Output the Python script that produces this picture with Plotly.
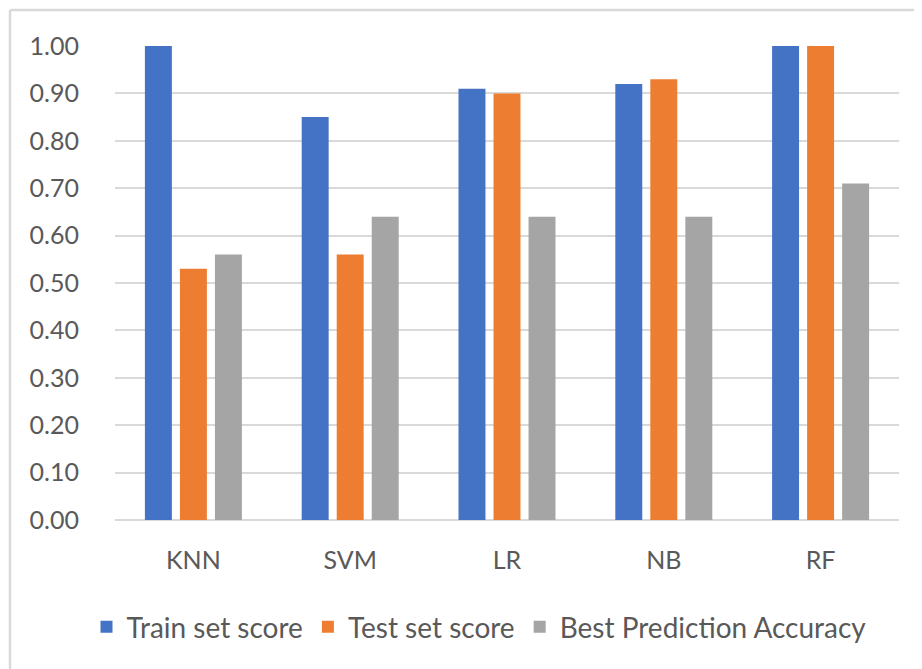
import plotly.graph_objects as go

categories = ["KNN", "SVM", "LR", "NB", "RF"]
train_scores = [1.00, 0.85, 0.91, 0.92, 1.00]
test_scores = [0.53, 0.56, 0.90, 0.93, 1.00]
best_accuracy = [0.56, 0.64, 0.64, 0.64, 0.71]
series_names = ["Train set score", "Test set score", "Best Prediction Accuracy"]
colors = ["#4472C4", "#ED7D31", "#A5A5A5"]

fig = go.Figure()
for name, vals, col in zip(series_names, [train_scores, test_scores, best_accuracy], colors):
    fig.add_trace(go.Bar(x=categories, y=vals, name=name, marker=dict(color=col, line=dict(width=0))))

OFF = 8  # page body margin
W, H = 922 - OFF, 669 - OFF
L, R, T, B = 115 - OFF, 23, 46 - OFF, 149
pw, ph = W - L - R, H - T - B

def px_to_paper_x(px):
    return (px - OFF - L) / pw

def px_to_paper_y(py):
    return (H - B - (py - OFF)) / ph

fig.update_layout(
    width=W, height=H,
    margin=dict(l=L, r=R, t=T, b=B),
    paper_bgcolor="white", plot_bgcolor="white",
    barmode="group", bargap=0.33, bargroupgap=0.23,
    font=dict(family="Lato, Carlito, Calibri, sans-serif", size=25, color="#595959"),
    showlegend=True,
    legend=dict(orientation="h", x=px_to_paper_x(479), xanchor="center",
                y=px_to_paper_y(627), yanchor="middle",
                font=dict(size=28, color="#595959"), itemwidth=30,
                bgcolor="rgba(0,0,0,0)"),
    xaxis=dict(showgrid=False, showline=False, ticks="", ticklabelstandoff=23,
               tickfont=dict(size=25, color="#595959")),
    yaxis=dict(range=[0, 1.0], tickvals=[i / 10 for i in range(11)], tickformat=".2f",
               showgrid=True, gridcolor="#D9D9D9", gridwidth=1.5,
               zeroline=True, zerolinecolor="#D9D9D9", zerolinewidth=1.5,
               showline=False, ticks="", ticklabelstandoff=35,
               tickfont=dict(size=25, color="#595959")),
    shapes=[
        dict(type="line", xref="paper", yref="paper",
             x0=px_to_paper_x(10), x1=px_to_paper_x(10),
             y0=px_to_paper_y(H + 20), y1=px_to_paper_y(10),
             line=dict(color="#D9D9D9", width=2.5)),
        dict(type="line", xref="paper", yref="paper",
             x0=px_to_paper_x(10), x1=px_to_paper_x(W + 20),
             y0=px_to_paper_y(10), y1=px_to_paper_y(10),
             line=dict(color="#D9D9D9", width=2.5)),
    ],
)

fig.write_html("out.html")
